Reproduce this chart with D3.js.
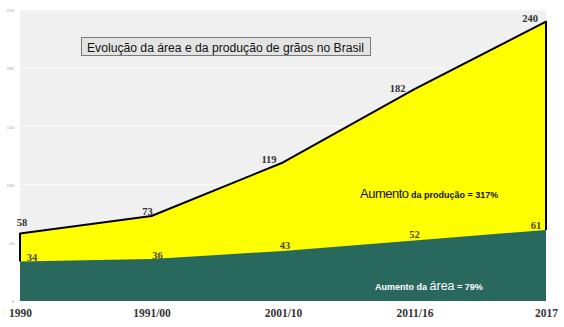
<!DOCTYPE html>
<html><head><meta charset="utf-8">
<script src="https://cdn.jsdelivr.net/npm/d3@7/dist/d3.min.js"></script>
<style>body{margin:0;background:#fff}svg{display:block}</style>
</head><body><svg id="c" width="564" height="327"></svg>
<script>
const categories = ["1990", "1991/00", "2001/10", "2011/16", "2017"];
const producao = [58, 73, 119, 182, 240];
const area = [34, 36, 43, 52, 61];
const yTicks = [0, 50, 100, 150, 200, 250];
const title = "Evolução da área e da produção de grãos no Brasil";

// label layout offsets (styling only)
const prodLabelOff = [[2, -7], [-4, -1], [-14, 1], [-17, 3], [-16, 0]];
const areaLabelOff = [[12, 0], [6, 0], [2, -2], [0, -2], [-10, -1]];

const svg = d3.select("#c");
const x = d3.scalePoint().domain(categories).range([20, 546]);
const y = d3.scaleLinear().domain([0, 250]).range([301, 10]);

svg.append("rect").attr("x", 20).attr("y", y(250)).attr("width", 526).attr("height", y(0) - y(250)).attr("fill", "#f0f0f0");
svg.append("g").selectAll("line").data(yTicks.filter(d => d > 0)).join("line")
  .attr("x1", 20).attr("x2", 546).attr("y1", d => y(d)).attr("y2", d => y(d))
  .attr("stroke", "#fbfbfb").attr("stroke-width", 1);

const yAxis = d3.axisLeft(y).tickValues(yTicks).tickSize(0).tickPadding(0);
const ga = svg.append("g").attr("transform", "translate(14,0)").call(yAxis);
ga.select(".domain").remove();
ga.selectAll("text").attr("font-family", "Liberation Serif").attr("font-size", 5).attr("fill", "#999");

const dataP = categories.map((c, i) => ({c, v: producao[i]}));
const dataA = categories.map((c, i) => ({c, v: area[i]}));

svg.append("path").datum(dataP)
  .attr("d", d3.area().x(d => x(d.c)).y0(y(0)).y1(d => y(d.v)))
  .attr("fill", "#ffff00");
svg.append("path").datum(dataA)
  .attr("d", d3.area().x(d => x(d.c)).y0(y(0)).y1(d => y(d.v)))
  .attr("fill", "#28685d");

const outline = [[x(categories[0]), y(area[0])]]
  .concat(dataP.map(d => [x(d.c), y(d.v)]))
  .concat([[x(categories[4]), y(area[4])]]);
svg.append("path").attr("d", d3.line()(outline))
  .attr("fill", "none").attr("stroke", "#000").attr("stroke-width", 2).attr("stroke-linejoin", "round");

svg.append("g").selectAll("text").data(dataP).join("text")
  .attr("x", (d, i) => x(d.c) + prodLabelOff[i][0]).attr("y", (d, i) => y(d.v) + prodLabelOff[i][1])
  .attr("text-anchor", "middle").attr("font-family", "Liberation Serif").attr("font-weight", "bold")
  .attr("font-size", 10.5).attr("fill", "#333").text(d => d.v);
svg.append("g").selectAll("text").data(dataA).join("text")
  .attr("x", (d, i) => x(d.c) + areaLabelOff[i][0]).attr("y", (d, i) => y(d.v) + areaLabelOff[i][1])
  .attr("text-anchor", "middle").attr("font-family", "Liberation Serif").attr("font-weight", "bold")
  .attr("font-size", 10.5).attr("fill", "#4a4a1e").text(d => d.v);

const xAxis = d3.axisBottom(x).tickSize(0).tickPadding(0);
const gx = svg.append("g").attr("transform", "translate(0,309)").call(xAxis);
gx.select(".domain").remove();
gx.selectAll("text").attr("font-family", "Liberation Serif").attr("font-weight", "bold")
  .attr("font-size", 11.5).attr("fill", "#333").attr("dy", "0.71em");

// title box
svg.append("rect").attr("x", 81.5).attr("y", 37.5).attr("width", 289).attr("height", 18)
  .attr("fill", "#e3e3e3").attr("stroke", "#7a7a7a").attr("stroke-width", 1);
svg.append("text").attr("x", 87).attr("y", 51.5).attr("font-family", "Liberation Sans")
  .attr("font-size", 12.5).attr("fill", "#111").attr("textLength", 277).attr("lengthAdjust", "spacingAndGlyphs").text(title);

const t1 = svg.append("text").attr("x", 360).attr("y", 198).attr("font-family", "Liberation Sans").attr("fill", "#111");
t1.append("tspan").attr("font-size", 13).attr("letter-spacing", -0.5).text("Aumento");
t1.append("tspan").attr("font-size", 9).attr("font-weight", "bold").text(" da produção = 317%");

const t2 = svg.append("text").attr("x", 375).attr("y", 290).attr("font-family", "Liberation Sans").attr("fill", "#fff").attr("font-weight", "bold");
t2.append("tspan").attr("font-size", 9).text("Aumento da ");
t2.append("tspan").attr("font-size", 12.5).attr("font-weight", "normal").text("área");
t2.append("tspan").attr("font-size", 9).text(" = 79%");
</script></body></html>
